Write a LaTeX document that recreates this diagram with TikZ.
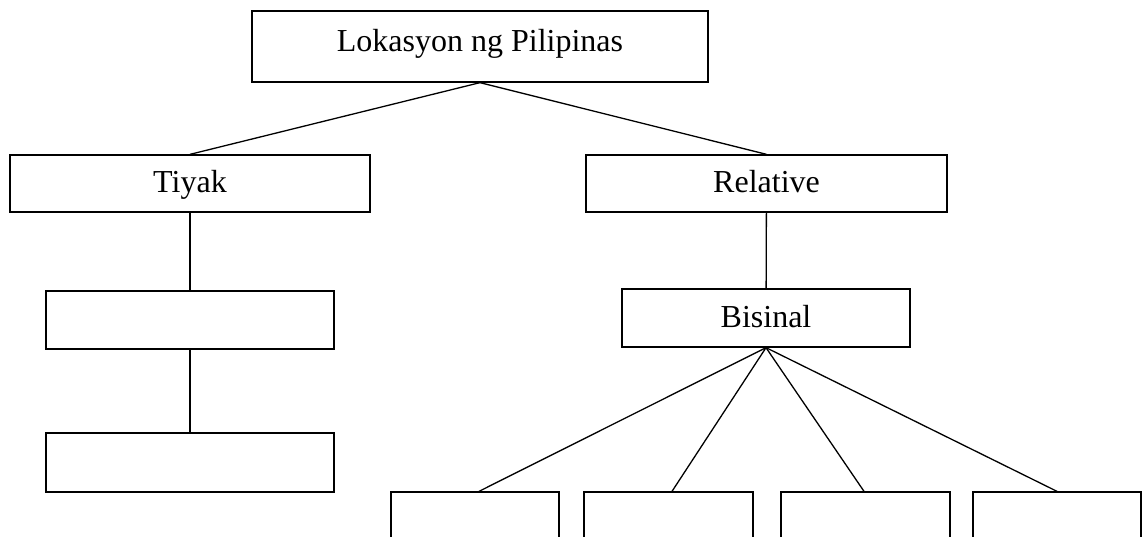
\documentclass[tikz,border=0pt]{standalone}
\usepackage{fontspec}
\setmainfont{Liberation Serif}

\begin{document}
\begin{tikzpicture}
[x=1pt,y=-1pt,
block/.style ={rectangle, draw=black, line width=1.3pt,
font=\fontsize{32}{36}\selectfont,
text height=24pt, text depth=5pt,
inner sep=0pt, align=center},
line/.style ={draw, line width=1.3pt}]
\useasboundingbox (0,0) rectangle (1142,537);
% row 1
\node [block, text height=20pt, text depth=10pt, minimum width=456pt, minimum height=71pt] (lokasyon) at (480,46.5) {Lokasyon ng Pilipinas};
% row 2
\node [block, minimum width=360pt, minimum height=57pt] (tiyak) at (190,183.5) {Tiyak};
\node [block, minimum width=361pt, minimum height=57pt] (relative) at (766.5,183.5) {Relative};
% row 3
\node [block, minimum width=288pt, minimum height=58pt] (tiyakA) at (190,320) {};
\node [block, minimum width=288pt, minimum height=58pt] (bisinal) at (766,318) {Bisinal};
% row 4
\node [block, minimum width=288pt, minimum height=59pt] (tiyakB) at (190,462.5) {};
% row 5
\node [block, minimum width=168pt, minimum height=58pt] (bisA) at (475,521) {};
\node [block, minimum width=169pt, minimum height=58pt] (bisB) at (668.5,521) {};
\node [block, minimum width=169pt, minimum height=58pt] (bisC) at (865.5,521) {};
\node [block, minimum width=168pt, minimum height=58pt] (bisD) at (1057,521) {};
\begin{scope}[every path/.style=line]
\path (lokasyon.south) -- (tiyak.north);
\path (lokasyon.south) -- (relative.north);
\path (tiyak) -- (tiyakA);
\path (tiyakA) -- (tiyakB);
\path (relative) -- (bisinal);
\path (bisinal.south) -- ([xshift=4pt]bisA.north);
\path (bisinal.south) -- ([xshift=3.5pt]bisB.north);
\path (bisinal.south) -- ([xshift=-1.5pt]bisC.north);
\path (bisinal.south) -- (bisD.north);
\end{scope}
\end{tikzpicture}
\end{document}
